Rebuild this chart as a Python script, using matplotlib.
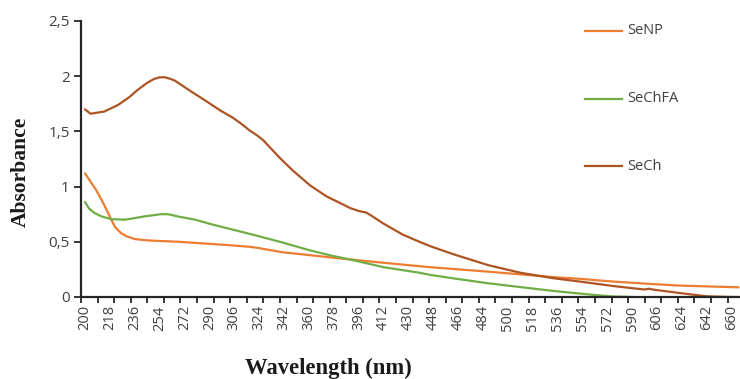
import numpy as np
import matplotlib
matplotlib.use("Agg")
import matplotlib.pyplot as plt

# x-axis category labels (nm)
tick_labels = [200, 218, 236, 254, 272, 290, 306, 324, 342, 360, 378, 396, 412,
               430, 448, 466, 484, 500, 518, 536, 554, 572, 590, 606, 624, 642, 660]

# SeNP
senp_wl = [200, 204, 208, 212, 216, 219, 222, 226, 230, 236, 245, 255, 268, 280, 302,
           317, 323, 341, 360, 382, 412, 439, 446, 487, 533, 552, 576, 600, 623, 645, 665]
senp_ab = [1.12, 1.045, 0.97, 0.88, 0.78, 0.70, 0.63, 0.58, 0.55, 0.525, 0.513, 0.507,
           0.50, 0.49, 0.47, 0.455, 0.445, 0.405, 0.38, 0.35, 0.31, 0.278, 0.27, 0.23,
           0.18, 0.165, 0.14, 0.12, 0.103, 0.095, 0.088]

# SeChFA
sechfa_wl = [200, 203, 207, 212, 219, 229, 243, 255, 260, 267, 280, 291, 306, 324, 342,
             360, 378, 390, 412, 438, 446, 462, 487, 509, 533, 557, 575, 590]
sechfa_ab = [0.86, 0.80, 0.76, 0.73, 0.705, 0.70, 0.73, 0.75, 0.75, 0.73, 0.70, 0.66,
             0.607, 0.55, 0.49, 0.425, 0.37, 0.34, 0.27, 0.22, 0.20, 0.17, 0.125, 0.09,
             0.055, 0.025, 0.005, 0.0]

# SeCh
sech_wl = [200, 204, 214, 224, 232, 238, 245, 250, 254, 258, 262, 265, 271, 277, 287,
           297, 305, 311, 317, 323, 327, 333, 339, 348, 361, 373, 382, 390, 396, 399, 401,
           405, 412, 426, 439, 446, 462, 487, 509, 533, 552, 567, 576, 590, 598, 601, 604,
           623, 642, 660, 665]
sech_ab = [1.70, 1.66, 1.68, 1.74, 1.81, 1.875, 1.94, 1.975, 1.99, 1.99, 1.975, 1.96,
           1.91, 1.86, 1.78, 1.69, 1.625, 1.57, 1.51, 1.46, 1.42, 1.34, 1.26, 1.15, 1.01,
           0.91, 0.855, 0.805, 0.78, 0.77, 0.765, 0.73, 0.665, 0.565, 0.495, 0.46, 0.39,
           0.29, 0.22, 0.17, 0.14, 0.115, 0.10, 0.08, 0.068, 0.075, 0.066, 0.035, 0.006,
           0.0, 0.0]

yticks = [0, 0.5, 1, 1.5, 2, 2.5]
ytick_text = ["0", "0,5", "1", "1,5", "2", "2,5"]

label_idx = np.arange(len(tick_labels))


def to_pos(wl):
    wl = np.asarray(wl, dtype=float)
    pos = np.interp(wl, tick_labels, label_idx)
    over = wl > tick_labels[-1]
    pos[over] = label_idx[-1] + (wl[over] - tick_labels[-1]) / 18.0
    return pos


W, H = 740, 379
fig = plt.figure(figsize=(W / 100, H / 100), dpi=100)
ax_left, ax_right, ax_top, ax_bot = 81, 740, 21, 297
ax = fig.add_axes([ax_left / W, 1 - ax_bot / H, (ax_right - ax_left) / W, (ax_bot - ax_top) / H])

px_per = 24.87
x0 = (ax_left - 85) / px_per
x1 = (ax_right - 85) / px_per

c_senp = "#ED7D31"
c_sechfa = "#70AD47"
c_sech = "#AE5322"

ax.plot(to_pos(senp_wl), senp_ab, color=c_senp, lw=1.6, solid_capstyle="round")
ax.plot(to_pos(sechfa_wl), sechfa_ab, color=c_sechfa, lw=1.6, solid_capstyle="round")
ax.plot(to_pos(sech_wl), sech_ab, color=c_sech, lw=1.6, solid_capstyle="round")

ax.set_xlim(x0, x1)
ax.set_ylim(0, 2.5)

for s in ["top", "right"]:
    ax.spines[s].set_visible(False)
for s in ["left", "bottom"]:
    ax.spines[s].set_color("#262626")
    ax.spines[s].set_linewidth(1.6)

tick_font = "Open Sans"
ax.set_yticks(yticks)
ax.set_yticklabels(ytick_text, fontsize=11, family=tick_font, color="#404040")
ax.tick_params(axis="y", length=5, width=1.3, color="#262626", pad=3)

ax.set_xticks(label_idx)
ax.set_xticklabels([str(v) for v in tick_labels], rotation=90, fontsize=10.5,
                   family=tick_font, color="#404040")
ax.tick_params(axis="x", which="major", length=0, pad=6)
minor = np.arange(x0, x1 + 1e-6, 2.0 / 3.0)
ax.set_xticks(minor, minor=True)
ax.tick_params(axis="x", which="minor", length=4.5, width=1.3, color="#262626")

# legend
leg = [("SeNP", c_senp, 30.5), ("SeChFA", c_sechfa, 98.5), ("SeCh", c_sech, 166.5)]
for name, col, ypx in leg:
    fig.add_artist(plt.Line2D([585 / W, 622 / W], [1 - ypx / H, 1 - ypx / H],
                              color=col, lw=1.6, transform=fig.transFigure))
    fig.text(627 / W, 1 - ypx / H, name, fontsize=10.5, family=tick_font,
             color="#404040", va="center", ha="left")

fig.text(328 / W, 1 - 368 / H, "Wavelength (nm)", fontsize=16.3, fontweight="bold",
         family="Liberation Serif", ha="center", va="center", color="#1a1a1a")
fig.text(21 / W, 1 - 172 / H, "Absorbance", fontsize=15.5, fontweight="bold",
         family="Liberation Serif", ha="center", va="center", rotation=90,
         color="#1a1a1a")

fig.savefig("out.png", dpi=100)
